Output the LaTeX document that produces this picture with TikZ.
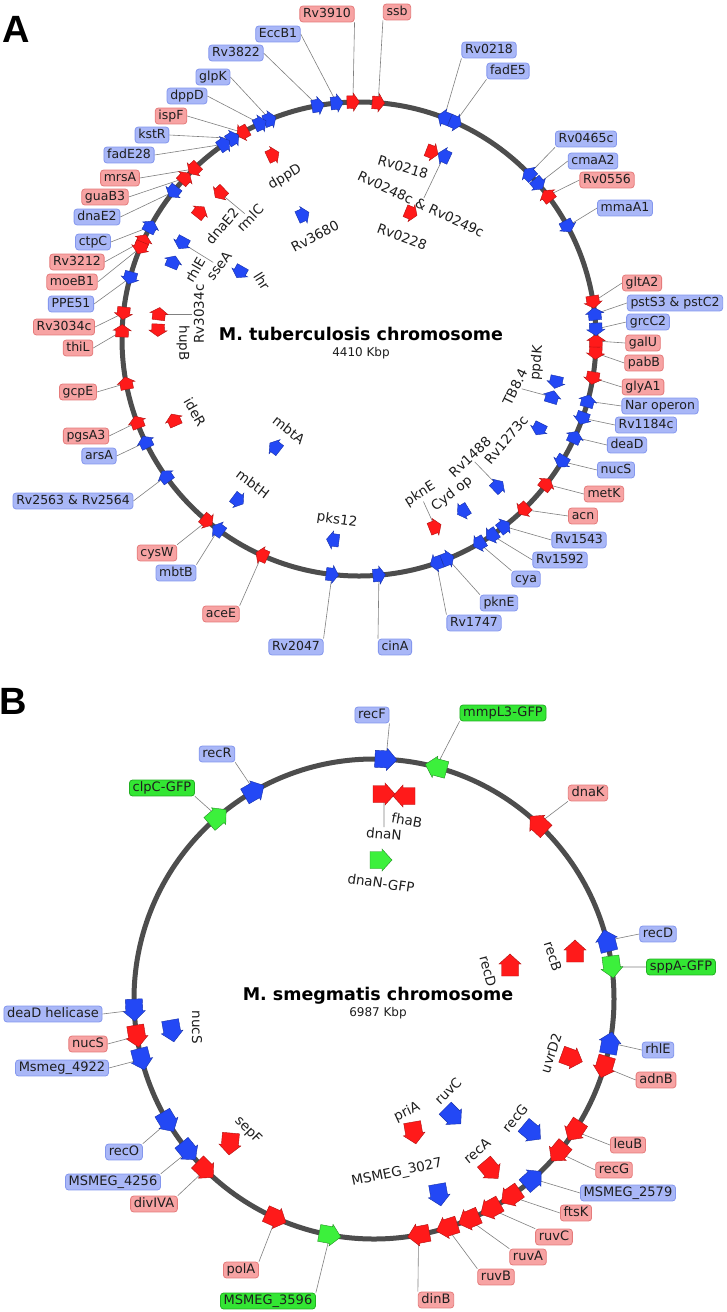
\documentclass[tikz,border=0pt]{standalone}
\usepackage{fontspec}
\setmainfont{DejaVu Sans}
\newfontfamily\panelfont{Liberation Sans}
\pgfdeclarelayer{bg}
\pgfdeclarelayer{paper}
\pgfsetlayers{paper,bg,main}
\definecolor{gred}{HTML}{FF1A1A}
\definecolor{gblue}{HTML}{2348F5}
\definecolor{ggreen}{HTML}{3CF03C}
\definecolor{lredf}{HTML}{F7A3A3}
\definecolor{lredd}{HTML}{E57B7B}
\definecolor{lbluef}{HTML}{A9B7F7}
\definecolor{lblued}{HTML}{8497EE}
\definecolor{lgreenf}{HTML}{33E633}
\definecolor{lgreend}{HTML}{22B022}
\definecolor{ringc}{HTML}{4D4D4D}
\definecolor{txt}{HTML}{1E1E1E}
\tikzset{
  ring/.style={draw=ringc, line width=5pt},
  leader/.style={draw=black!50, line width=0.6pt},
  genered/.style={fill=gred, draw=gred!70!black, line width=0.4pt},
  geneblue/.style={fill=gblue, draw=gblue!70!black, line width=0.4pt},
  genegreen/.style={fill=ggreen, draw=ggreen!60!black, line width=0.4pt},
  lbl/.style={rounded corners=3pt, line width=0.8pt, inner xsep=3.2pt, inner ysep=2pt,
    text height=9.3pt, text depth=2.6pt, text=txt, font=\lblfont},
  lred/.style={fill=lredf, draw=lredd},
  lblue/.style={fill=lbluef, draw=lblued},
  lgreen/.style={fill=lgreenf, draw=lgreend},
  ilbl/.style={inner sep=1.5pt, text=txt, font=\fontsize{13.5}{15}\selectfont},
  ttl/.style={text=black, font=\bfseries\fontsize{17.5}{20}\selectfont},
  sub/.style={text=txt, font=\fontsize{12}{14}\selectfont},
  panel/.style={text=black, font=\panelfont\bfseries\fontsize{38}{40}\selectfont}
}
\def\lblfont{\fontsize{12.5}{14}\selectfont}
% gene arrow with explicit visual angle: name, x, y, colour, angle
\newcommand\fgene[5]{%
  \coordinate (#1) at (#2,#3);
  \path[gene#4, shift={(#1)}, rotate=#5] (-\gT,-\gB) -- (\gH,-\gB) -- (\gH,-\gW) -- (\gP,0) -- (\gH,\gW) -- (\gH,\gB) -- (-\gT,\gB) -- cycle;
}
% gene along the circle: name, x, y, colour, dir (1 cw / -1 ccw), snap to ring (1/0)
\newcommand\gene[6]{%
  \pgfmathsetmacro\gAng{atan2((#2)-\CX,\CY-(#3))}%
  \pgfmathsetmacro\gX{#6*(\CX+\RR*sin(\gAng))+(1-#6)*(#2)}%
  \pgfmathsetmacro\gY{#6*(\CY-\RR*cos(\gAng))+(1-#6)*(#3)}%
  \pgfmathsetmacro\gRot{90-90*(#5)-\gAng}%
  \fgene{#1}{\gX}{\gY}{#4}{\gRot}%
}
% label: name, x, y, style, text, gene, anchor
\newcommand\lab[7]{%
  \node[lbl,#4] (#1) at (#2,#3) {#5};
  \begin{pgfonlayer}{bg}\draw[leader] (#6) -- (#1.#7);\end{pgfonlayer}
}
\newcommand\ilab[5]{\node[ilbl,rotate=#4] (#1) at (#2,#3) {#5};}
\newcommand\ilead[2]{\begin{pgfonlayer}{bg}\draw[leader] (#1) -- (#2);\end{pgfonlayer}}
\begin{document}
\begin{tikzpicture}[x=1pt,y=-1pt]
\begin{pgfonlayer}{paper}
\fill[white] (0,0) rectangle (727,1312);
\end{pgfonlayer}
\useasboundingbox (0,0) rectangle (727,1312);
\node[panel] (pA) at (16,29) {A};
\node[panel] (pB) at (13,701) {B};
% ================= PANEL A =================
\def\CX{359}\def\CY{339}\def\RR{237}
\def\gT{6}\def\gB{6.3}\def\gH{0.5}\def\gW{9}\def\gP{6.5}
\begin{pgfonlayer}{paper}
\coordinate (cA) at (\CX,\CY);
\draw[ring] (cA) circle[radius=237];
\end{pgfonlayer}
\node[ttl] (atitle) at (361,334) {M. tuberculosis chromosome};
\node[sub] (asub) at (361,353) {4410 Kbp};
% ring genes
\gene{aRv3910}{353}{106}{red}{1}{1}
\gene{aEccB1}{337}{106}{blue}{1}{1}
\gene{aRv3822}{318}{107}{blue}{1}{1}
\gene{aglpK}{268}{115}{blue}{1}{1}
\gene{adppD}{259}{121}{blue}{1}{1}
\gene{aispF}{243}{133}{red}{-1}{1}
\gene{akstR}{234}{140}{blue}{1}{1}
\gene{afadE28}{226}{147}{blue}{1}{1}
\gene{amrsA}{193}{168}{red}{-1}{1}
\gene{aguaB3}{185}{178}{red}{1}{1}
\gene{adnaE2}{175}{193}{blue}{-1}{1}
\gene{actpC}{151}{227}{blue}{1}{1}
\gene{aRv3212}{142}{240}{red}{1}{1}
\gene{amoeB1}{141}{248}{red}{-1}{1}
\gene{aPPE51}{131}{278}{blue}{-1}{1}
\gene{aRv3034c}{123}{313}{red}{-1}{1}
\gene{athiL}{122}{331}{red}{1}{1}
\gene{agcpE}{128}{383}{red}{1}{1}
\gene{apgsA3}{138}{422}{red}{1}{1}
\gene{aarsA}{146}{442}{blue}{1}{1}
\gene{aRvtwo}{165}{477}{blue}{1}{1}
\gene{acysW}{207}{521}{red}{-1}{1}
\gene{ambtB}{218}{530}{blue}{1}{1}
\gene{aaceE}{262}{555}{red}{1}{1}
\gene{aRv2047}{332}{575}{blue}{-1}{1}
\gene{acinA}{379}{576}{blue}{-1}{1}
\gene{aRv1747}{436}{562}{blue}{1}{1}
\gene{apknE}{447}{557}{blue}{-1}{1}
\gene{acya}{479}{543}{blue}{1}{1}
\gene{aRv1592}{491}{534}{blue}{1}{1}
\gene{aRv1543}{503}{525}{blue}{-1}{1}
\gene{aacn}{524}{510}{red}{1}{1}
\gene{ametK}{546}{484}{red}{-1}{1}
\gene{anucS}{561}{461}{blue}{1}{1}
\gene{adeaD}{574}{437}{blue}{-1}{1}
\gene{aRv1184c}{582}{418}{blue}{1}{1}
\gene{aNar}{587}{401}{blue}{-1}{1}
\gene{aglyA1}{593}{378}{red}{1}{1}
\gene{apabB}{596}{353}{red}{1}{1}
\gene{agalU}{597}{341}{red}{-1}{1}
\gene{agrcC2}{597}{329}{blue}{1}{1}
\gene{apstS3}{595}{314}{blue}{-1}{1}
\gene{agltA2}{592}{302}{red}{1}{1}
\gene{ammaA1}{566}{227}{blue}{1}{1}
\gene{aRv0556}{546}{197}{red}{-1}{1}
\gene{acmaA2}{537}{185}{blue}{1}{1}
\gene{aRv0465c}{527}{176}{blue}{-1}{1}
\gene{afadE5}{455}{123}{blue}{1}{1}
\gene{aRv0218}{444}{118}{blue}{-1}{1}
\gene{assb}{378}{105}{red}{1}{1}
% inner genes
\gene{aidppD}{273}{155}{red}{1}{0}
\gene{airmlC}{220}{193}{red}{-1}{0}
\gene{aidnaE2}{200}{212}{red}{1}{0}
\gene{aiRv3680}{303}{215}{blue}{1}{0}
\gene{aisseA}{182}{243}{blue}{-1}{0}
\gene{airhlE}{173}{262}{blue}{1}{0}
\gene{ailhr}{240}{272}{blue}{-1}{0}
\gene{aiRv3034c}{159}{314}{red}{1}{0}
\gene{aihupB}{158}{330}{red}{-1}{0}
\gene{aiideR}{174}{420}{red}{1}{0}
\gene{aimbtA}{275}{447}{blue}{1}{0}
\gene{aimbtH}{238}{500}{blue}{-1}{0}
\gene{aipks}{333}{540}{blue}{1}{0}
\gene{aipknE}{435}{527}{red}{-1}{0}
\gene{aiCyd}{463}{511}{blue}{1}{0}
\gene{aiRv1488}{498}{486}{blue}{-1}{0}
\gene{aiRv1273c}{539}{429}{blue}{1}{0}
\gene{aiTB}{552}{397}{blue}{-1}{0}
\gene{aippdK}{556}{382}{blue}{1}{0}
\gene{aiRv0218}{432}{152}{red}{1}{0}
\gene{aiRv0248c}{444}{156}{blue}{-1}{0}
\gene{aiRv0228}{411}{213}{red}{1}{0}
% ring labels
\lab{lRv3910}{327}{14}{lred}{Rv3910}{aRv3910}{south east}
\lab{lEccB1}{278}{34}{lblue}{EccB1}{aEccB1}{east}
\lab{lRv3822}{236}{53}{lblue}{Rv3822}{aRv3822}{east}
\lab{lglpK}{213}{77}{lblue}{glpK}{aglpK}{east}
\lab{ldppD}{187}{96}{lblue}{dppD}{adppD}{east}
\lab{lispF}{171}{116}{lred}{ispF}{aispF}{east}
\lab{lkstR}{152}{135}{lblue}{kstR}{akstR}{east}
\lab{lfadE28}{129}{155}{lblue}{fadE28}{afadE28}{east}
\lab{lmrsA}{120}{178}{lred}{mrsA}{amrsA}{east}
\lab{lguaB3}{105}{197}{lred}{guaB3}{aguaB3}{east}
\lab{ldnaE2}{97}{217}{lblue}{dnaE2}{adnaE2}{east}
\lab{lctpC}{93}{242}{lblue}{ctpC}{actpC}{east}
\lab{lRv3212}{77}{262}{lred}{Rv3212}{aRv3212}{east}
\lab{lmoeB1}{72}{282}{lred}{moeB1}{amoeB1}{east}
\lab{lPPE51}{71}{304}{lblue}{PPE51}{aPPE51}{east}
\lab{lRv3034c}{64}{327}{lred}{Rv3034c}{aRv3034c}{east}
\lab{lthiL}{78}{348}{lred}{thiL}{athiL}{east}
\lab{lgcpE}{78}{392}{lred}{gcpE}{agcpE}{east}
\lab{lpgsA3}{86}{436}{lred}{pgsA3}{apgsA3}{east}
\lab{larsA}{99}{456}{lblue}{arsA}{aarsA}{east}
\lab{lRvtwo}{73}{501}{lblue}{Rv2563 \& Rv2564}{aRvtwo}{east}
\lab{lcysW}{157}{553}{lred}{cysW}{acysW}{north east}
\lab{lmbtB}{176}{573}{lblue}{mbtB}{ambtB}{north east}
\lab{laceE}{221}{614}{lred}{aceE}{aaceE}{north east}
\lab{lRv2047}{296}{647}{lblue}{Rv2047}{aRv2047}{north east}
\lab{lcinA}{395}{647}{lblue}{cinA}{acinA}{north west}
\lab{lRv1747}{474}{623}{lblue}{Rv1747}{aRv1747}{north west}
\lab{lpknE}{499}{603}{lblue}{pknE}{apknE}{north west}
\lab{lcya}{526}{579}{lblue}{cya}{acya}{north west}
\lab{lRv1592}{560}{560}{lblue}{Rv1592}{aRv1592}{west}
\lab{lRv1543}{579}{540}{lblue}{Rv1543}{aRv1543}{west}
\lab{lacn}{583}{516}{lred}{acn}{aacn}{west}
\lab{lmetK}{604}{494}{lred}{metK}{ametK}{west}
\lab{lnucS}{616}{470}{lblue}{nucS}{anucS}{west}
\lab{ldeaD}{627}{445}{lblue}{deaD}{adeaD}{west}
\lab{lRv1184c}{646}{425}{lblue}{Rv1184c}{aRv1184c}{west}
\lab{lNar}{660}{406}{lblue}{Nar operon}{aNar}{west}
\lab{lglyA1}{643}{387}{lred}{glyA1}{aglyA1}{west}
\lab{lpabB}{644}{363}{lred}{pabB}{apabB}{west}
\lab{lgalU}{643}{343}{lred}{galU}{agalU}{west}
\lab{lgrcC2}{648}{322}{lblue}{grcC2}{agrcC2}{west}
\lab{lpstS3}{675}{303}{lblue}{pstS3 \& pstC2}{apstS3}{west}
\lab{lgltA2}{642}{283}{lred}{gltA2}{agltA2}{west}
\lab{lmmaA1}{625}{208}{lblue}{mmaA1}{ammaA1}{west}
\lab{lRv0556}{607}{180}{lred}{Rv0556}{aRv0556}{west}
\lab{lcmaA2}{593}{161}{lblue}{cmaA2}{acmaA2}{west}
\lab{lRv0465c}{586}{139}{lblue}{Rv0465c}{aRv0465c}{south west}
\lab{lfadE5}{508}{71}{lblue}{fadE5}{afadE5}{south west}
\lab{lRv0218}{489}{50}{lblue}{Rv0218}{aRv0218}{south west}
\lab{lssb}{397}{12}{lred}{ssb}{assb}{south west}
% inner labels
\ilab{tdppD}{285}{177}{31}{dppD}
\ilab{trmlC}{250}{218}{46}{rmlC}
\ilab{tdnaE2}{222}{226}{50}{dnaE2}
\ilab{tRv3680}{315}{236}{28}{Rv3680}
\ilab{tsseA}{219}{266}{52}{sseA}
\ilab{trhlE}{195}{270}{60}{rhlE}
\ilab{tlhr}{262}{281}{-58}{lhr}
\ilab{tRv3034c}{199}{314}{90}{Rv3034c}
\ilab{thupB}{183}{343}{-90}{hupB}
\ilab{tideR}{195}{412}{-60}{ideR}
\ilab{tmbtA}{289}{430}{-38}{mbtA}
\ilab{tmbtH}{253}{484}{-37}{mbtH}
\ilab{tpks}{337}{520}{-8}{pks12}
\ilab{tpknE}{420}{494}{32}{pknE}
\ilab{tCyd}{452}{494}{38}{Cyd op}
\ilab{tRv1488}{470}{457}{43}{Rv1488}
\ilab{tRv1273c}{506}{440}{50}{Rv1273c}
\ilab{tTB}{515}{387}{64}{TB8.4}
\ilab{tppdK}{537}{363}{85}{ppdK}
\ilab{tRv0218}{403}{167}{-17}{Rv0218}
\ilab{tRv0248c}{421}{204}{-25}{Rv0248c \& Rv0249c}
\ilab{tRv0228}{402}{237}{-20}{Rv0228}
\ilead{aiRv3034c}{tRv3034c}
\ilead{airmlC}{trmlC}
\ilead{aisseA}{tsseA}
\ilead{aipknE}{tpknE}
\ilead{aiRv1488}{tRv1488}
\ilead{aiTB}{tTB}
\ilead{aiRv0248c}{tRv0248c}
% ================= PANEL B =================
\def\CX{374}\def\CY{999}\def\RR{240}
\def\gT{11}\def\gB{8.5}\def\gH{1}\def\gW{11}\def\gP{11}
\def\lblfont{\fontsize{13}{15}\selectfont}
\begin{pgfonlayer}{paper}
\coordinate (cB) at (\CX,\CY);
\draw[ring] (cB) circle[radius=240];
\end{pgfonlayer}
\node[ttl] (btitle) at (378,996) {M. smegmatis chromosome};
\node[sub] (bsub) at (378,1013) {6987 Kbp};
\gene{brecF}{386}{758}{blue}{1}{1}
\gene{bmmpL3}{436}{767}{green}{-1}{1}
\gene{brecR}{255}{792}{blue}{1}{1}
\gene{bclpC}{218}{817}{green}{1}{1}
\gene{bdnaK}{539}{823}{red}{-1}{1}
\gene{brecD}{609}{940}{blue}{-1}{1}
\gene{bsppA}{612}{967}{green}{1}{1}
\gene{brhlE}{611}{1043}{blue}{-1}{1}
\gene{badnB}{604}{1067}{red}{1}{1}
\gene{bleuB}{576}{1132}{red}{1}{1}
\gene{brecG}{559}{1153}{red}{1}{1}
\gene{bMSa}{534}{1180}{blue}{-1}{1}
\gene{bftsK}{511}{1197}{red}{1}{1}
\gene{bruvC}{491}{1210}{red}{1}{1}
\gene{bruvA}{469}{1220}{red}{1}{1}
\gene{bruvB}{447}{1228}{red}{1}{1}
\gene{bdinB}{419}{1237}{red}{1}{1}
\gene{bMSb}{330}{1235}{green}{-1}{1}
\gene{bpolA}{275}{1220}{red}{-1}{1}
\gene{bdivIVA}{205}{1170}{red}{-1}{1}
\gene{bMSc}{190}{1150}{blue}{-1}{1}
\gene{brecO}{168}{1122}{blue}{-1}{1}
\gene{bMsd}{143}{1059}{blue}{-1}{1}
\gene{bnucS}{138}{1036}{red}{-1}{1}
\gene{bdeaD}{137}{1010}{blue}{-1}{1}
\fgene{bidnaN}{384}{794}{red}{0}
\fgene{bifhaB}{404}{796}{red}{180}
\fgene{bidnaNG}{381}{860}{green}{0}
\fgene{birecB}{575}{951}{red}{90}
\fgene{birecD}{510}{965}{red}{90}
\fgene{binucS}{172}{1031}{blue}{-80}
\fgene{bisepF}{230}{1144}{red}{-95}
\fgene{biuvrD2}{572}{1058}{red}{-20}
\fgene{bipriA}{414}{1133}{red}{-80}
\fgene{biruvC}{453}{1116}{blue}{-45}
\fgene{birecG}{532}{1132}{blue}{-40}
\fgene{birecA}{491}{1170}{red}{-50}
\fgene{biMS}{439}{1195}{blue}{-80}
\lab{lbrecF}{372}{715}{lblue}{recF}{brecF}{south east}
\lab{lbmmpL3}{503}{713}{lgreen}{mmpL3-GFP}{bmmpL3}{south west}
\lab{lbrecR}{217}{754}{lblue}{recR}{brecR}{south east}
\lab{lbclpC}{162}{788}{lgreen}{clpC-GFP}{bclpC}{south east}
\lab{lbdnaK}{588}{793}{lred}{dnaK}{bdnaK}{south west}
\lab{lbrecD}{658}{934}{lblue}{recD}{brecD}{west}
\lab{lbsppA}{681}{967}{lgreen}{sppA-GFP}{bsppA}{west}
\lab{lbrhlE}{658}{1050}{lblue}{rhlE}{brhlE}{west}
\lab{lbadnB}{656}{1080}{lred}{adnB}{badnB}{west}
\lab{lbleuB}{628}{1145}{lred}{leuB}{bleuB}{west}
\lab{lbrecG}{614}{1170}{lred}{recG}{brecG}{west}
\lab{lbMSa}{628}{1193}{lblue}{MSMEG\_2579}{bMSa}{west}
\lab{lbftsK}{576}{1213}{lred}{ftsK}{bftsK}{west}
\lab{lbruvC}{554}{1237}{lred}{ruvC}{bruvC}{north west}
\lab{lbruvA}{528}{1257}{lred}{ruvA}{bruvA}{north west}
\lab{lbruvB}{496}{1277}{lred}{ruvB}{bruvB}{north west}
\lab{lbdinB}{436}{1300}{lred}{dinB}{bdinB}{north west}
\lab{lbMSb}{268}{1301}{lgreen}{MSMEG\_3596}{bMSb}{north east}
\lab{lbpolA}{241}{1270}{lred}{polA}{bpolA}{north east}
\lab{lbdivIVA}{154}{1204}{lred}{divIVA}{bdivIVA}{north east}
\lab{lbMSc}{113}{1182}{lblue}{MSMEG\_4256}{bMSc}{north east}
\lab{lbrecO}{124}{1152}{lblue}{recO}{brecO}{north east}
\lab{lbMsd}{62}{1068}{lblue}{Msmeg\_4922}{bMsd}{east}
\lab{lbnucS}{88}{1044}{lred}{nucS}{bnucS}{east}
\lab{lbdeaD}{53}{1014}{lblue}{deaD helicase}{bdeaD}{east}
\ilab{tbdnaN}{384}{834}{-5}{dnaN}
\ilab{tbfhaB}{407}{820}{-10}{fhaB}
\ilab{tbdnaNG}{381}{883}{-8}{dnaN-GFP}
\ilab{tbrecB}{553}{956}{-72}{recB}
\ilab{tbrecD}{488}{971}{-75}{recD}
\ilab{tbnucS}{197}{1027}{-90}{nucS}
\ilab{tbsepF}{248}{1130}{-45}{sepF}
\ilab{tbuvrD2}{551}{1053}{72}{uvrD2}
\ilab{tbpriA}{407}{1112}{25}{priA}
\ilab{tbruvC}{448}{1091}{45}{ruvC}
\ilab{tbrecG}{515}{1118}{50}{recG}
\ilab{tbrecA}{477}{1151}{40}{recA}
\ilab{tbMS}{397}{1173}{12}{MSMEG\_3027}
\ilead{bidnaN}{tbdnaN}
\end{tikzpicture}
\end{document}
